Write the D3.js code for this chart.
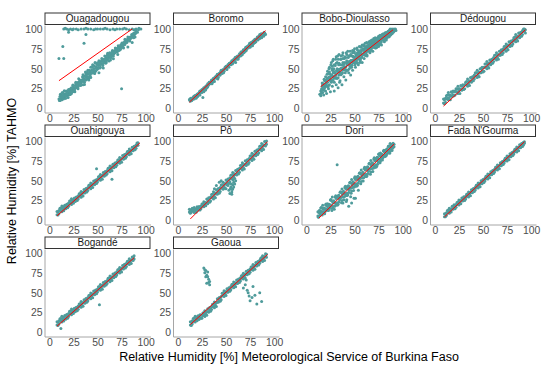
<!DOCTYPE html>
<html><head><meta charset="utf-8">
<script src="https://cdn.jsdelivr.net/npm/d3@7"></script>
<style>html,body{margin:0;padding:0;background:#fff;}svg{display:block;font-family:"Liberation Sans",Arial,sans-serif;}</style>
</head><body>
<svg id="chart" width="550" height="365"></svg>
<script>
const stations = ["Ouagadougou","Boromo","Bobo-Dioulasso","Dédougou","Ouahigouya","Pô","Dori","Fada N'Gourma","Bogandé","Gaoua"];
const tickValues = [0,25,50,75,100];
const xTitle = "Relative Humidity [%] Meteorological Service of Burkina Faso";
const yTitle = "Relative Humidity [%] TAHMO";

const ptsOuagadougou = [[10,12],[11,15],[12,13],[12,17],[13,11],[14,16],[15,14],[15,19],[16,13],[17,18],[18,16],[18,21],[19,19],[20,17],[20,23],[21,20],[22,22],[22,25],[23,19],[24,24],[25,27],[25,22],[26,25],[27,29],[28,26],[29,31],[30,28],[30,33],[31,30],[32,35],[33,32],[34,36],[35,34],[35,39],[36,37],[37,41],[38,36],[38,44],[39,40],[40,43],[40,48],[41,38],[42,46],[43,44],[43,52],[44,48],[45,45],[45,55],[46,50],[47,53],[48,47],[48,57],[49,52],[50,50],[50,56],[51,54],[52,58],[53,52],[54,56],[55,60],[56,57],[57,62],[58,59],[59,64],[60,61],[60,67],[61,63],[62,66],[63,64],[64,69],[65,67],[66,71],[67,69],[68,73],[69,72],[70,75],[71,73],[72,77],[73,76],[74,80],[75,78],[76,82],[77,80],[78,84],[79,83],[80,86],[81,85],[82,88],[83,87],[84,90],[85,89],[86,92],[87,91],[88,95],[89,94],[90,97],
[15,100],[18,100],[20,99],[22,100],[25,100],[28,100],[30,99],[33,100],[36,100],[40,100],[43,100],[46,99],[50,100],[53,100],[56,100],[60,100],[63,99],[66,100],[70,100],[73,100],[76,100],[80,100],[83,99],[86,100],[90,100],[93,101],
[10,63],[15,63],[14,78],[36,82],[75,25],[20,96],[38,93]];
const ptsOuagadougou2 = [[10.5,10],[11.5,18],[12.5,11],[13.5,20],[14.5,12],[16.5,17],[17.5,22],[19.5,14],[21.5,24],[23.5,22],[24.5,29],[26.5,21],[27.5,33],[29.5,27],[31.5,36],[32.5,29],[34.5,40],[36.5,33],[37.5,46],[39.5,37],[41.5,48],[42.5,41],[44.5,52],[46.5,46],[47.5,58],[49.5,49],[51.5,60],[52.5,51],[54.5,63],[55.5,54],[57.5,66],[58.5,57],[60.5,64],[62.5,70],[63.5,61],[65.5,73],[66.5,66],[68.5,76],[70.5,71],[71.5,79],[73.5,74],[75.5,82],[76.5,77],[78.5,87],[80.5,83],[81.5,90],[83.5,85],[85.5,93],[87.5,89],[89.5,99],[91.5,96],[92.5,99],
[16.5,101],[24,99],[38,101],[48,100],[58,101],[68,99],[78,101],[88,99],[95,100]];
const ptsOuagadougou3 = [[11,11],[12.8,14.5],[14,19],[15.8,16],[17,13],[18.8,18],[20.3,20],[21.8,18],[23,25],[24.3,21],[25.8,24],[27,26],[28.3,29],[29.8,25],[31,33],[32.3,31],[33.8,35],[35,30],[36.3,35],[37.8,39],[39,44],[40.3,40],[41.8,44],[43,39],[44.3,45],[45.8,48],[47,44],[48.3,51],[49.8,55],[51,51],[52.3,55],[53.8,59],[55,56],[56.3,59],[57.8,62],[59,58],[60.3,63],[61.8,67],[63,66],[64.3,64],[65.8,69],[67,72],[68.3,70],[69.8,74],[71,76],[72.3,73],[73.8,78],[75,80],[76.3,80],[77.8,82],[79,85],[80.3,84],[81.8,87],[83,89],[84.3,88],[85.8,90],[87,94],[88.3,93],[89.8,95]];
const ptsOuagadougou4 = [[11,10],[12.5,16.5],[14,15],[15.5,22.5],[17,16],[18.5,20.5],[20,24],[21.5,17.5],[23,26],[24.5,29.5],[26,23],[27.5,31.5],[29,30],[30.5,37.5],[32,31],[33.5,35.5],[35,42.6],[36.5,30.1],[38,41.4],[39.5,45.7],[41,36],[42.5,47.3],[44,44.6],[45.5,54.5],[47,44.8],[48.5,50.5],[50,57.6],[51.5,45.1],[53,56.4],[54.5,60.7],[56,51],[57.5,62.3],[59,59.6],[60.5,69.5],[62,59.8],[63.5,65.5],[65,71],[66.5,62.5],[68,71],[69.5,74.5],[71,68],[72.5,76.5],[74,75],[75.5,82.5],[77,76],[78.5,80.5],[80,86],[81.5,77.5],[83,86],[84.5,89.5],[86,83],[87.5,91.5],[89,90]];

const ptsBoromo = [[12,11],[13,9],[14,13],[15,11],[16,14],[17,12],[18,16],[19,13],[20,18],[21,16],[22,19],[23,17],[24,22],[25,20],[26,23],[27,21],[28,26],[29,24],[30,29],[31,27],[32,30],[33,33],[34,31],[35,35],[36,33],[37,37],[38,34],[39,40],[40,38],[41,42],[42,39],[43,44],[44,42],[45,46],[46,44],[47,49],[48,47],[49,50],[50,53],[51,49],[52,55],[53,52],[54,57],[55,55],[56,60],[57,57],[58,62],[59,59],[60,64],[61,62],[62,66],[63,64],[64,69],[65,66],[66,71],[67,68],[68,74],[69,71],[70,75],[71,73],[72,78],[73,76],[74,80],[75,78],[76,83],[77,80],[78,85],[79,82],[80,87],[81,84],[82,88],[83,86],[84,91],[85,88],[86,92],[87,89],[88,94],[89,91],[90,95],[91,93],[85,93],[80,83],[60,58],[45,48],[30,26],[20,15],[55,58],[70,72],[40,41],[66,67],[25,24],[35,32],[50,50],[75,77],[78,81],[26,14]];
const ptsBoromo2 = [[12.5,12],[13.5,13],[14.5,10],[16.5,15],[17.5,16],[19.5,17],[20.5,15],[22.5,21],[23.5,20],[25.5,22],[26.5,25],[28.5,23],[29.5,28],[31.5,29],[32.5,33],[34.5,34],[35.5,31],[37.5,36],[38.5,39],[40.5,40],[41.5,37],[43.5,42],[44.5,46],[46.5,47],[47.5,45],[49.5,52],[50.5,50],[52.5,53],[53.5,57],[55.5,58],[56.5,56],[58.5,60],[59.5,64],[61.5,64],[62.5,62],[64.5,67],[65.5,71],[67.5,72],[68.5,70],[70.5,77],[71.5,75],[73.5,78],[74.5,82],[76.5,81],[77.5,79],[79.5,86],[80.5,84],[82.5,90],[83.5,87],[85.5,90],[86.5,94],[88.5,92],[89.5,96],[90.5,94]];
const ptsBoromo3 = [[13,11],[15,13],[17,15],[19,16],[21,19],[23,22],[25,23],[27,26],[29,28],[31,31],[33,32],[35,36],[37,38],[39,39],[41,43],[43,44],[45,47],[47,48],[49,52],[51,53],[53,56],[55,57],[57,60],[59,62],[61,65],[63,66],[65,69],[67,71],[69,74],[71,76],[73,79],[75,80],[77,83],[79,84],[81,87],[83,89],[85,91],[87,91],[89,93]];

const ptsBobo = [[14,18],[15,22],[15,16],[16,25],[17,20],[17,30],[18,17],[18,27],[19,35],[20,22],[20,40],[21,28],[21,19],[22,33],[22,47],[23,25],[23,38],[24,52],[24,30],[25,21],[25,43],[26,35],[26,58],[27,28],[27,48],[28,40],[28,62],[29,22],[29,33],[30,54],[30,45],[31,30],[31,65],[32,38],[32,58],[33,48],[33,26],[34,42],[34,68],[35,35],[35,55],[36,50],[36,62],[37,30],[37,44],[38,58],[38,70],[39,40],[40,52],[40,65],[41,36],[42,48],[42,60],[43,72],[44,45],[44,55],[45,66],[46,42],[46,60],[47,52],[48,70],[48,48],[49,58],[50,64],[50,75],[51,52],[52,60],[53,70],[54,55],[55,66],[55,78],[56,60],[57,72],[58,58],[58,80],[59,68],[60,63],[60,75],[61,82],[62,70],[63,66],[63,78],[64,73],[65,84],[66,70],[66,78],[67,75],[68,82],[68,86],[69,72],[70,78],[70,88],[71,82],[72,76],[72,86],[73,80],[74,89],[74,84],[75,78],[75,91],[76,83],[77,87],[78,80],[78,92],[79,86],[80,89],[80,94],[81,84],[82,91],[82,95],[83,88],[84,93],[84,96],[85,90],[86,95],[86,98],[87,92],[88,96],[88,99],[89,94],[90,98],[91,100],[92,99],[87,100],[90,96]];
const ptsBobo2 = [[15.5,19],[16.5,28],[18.5,23],[19.5,30],[20.5,36],[21.5,43],[22.5,27],[23.5,50],[24.5,36],[25.5,55],[26.5,42],[27.5,60],[28.5,50],[29.5,38],[30.5,62],[31.5,48],[32.5,66],[33.5,55],[34.5,33],[35.5,62],[36.5,45],[37.5,67],[38.5,52],[39.5,63],[40.5,45],[41.5,70],[42.5,55],[43.5,64],[44.5,50],[45.5,72],[46.5,55],[47.5,66],[48.5,61],[49.5,72],[50.5,55],[51.5,68],[52.5,76],[53.5,62],[54.5,72],[55.5,58],[56.5,77],[57.5,66],[58.5,74],[59.5,80],[60.5,70],[61.5,76],[62.5,83],[63.5,72],[64.5,80],[65.5,76],[66.5,85],[67.5,80],[68.5,77],[69.5,86],[70.5,82],[71.5,89],[72.5,84],[73.5,87],[74.5,80],[75.5,88],[76.5,92],[77.5,84],[78.5,89],[79.5,93],[80.5,87],[81.5,92],[82.5,89],[83.5,95],[84.5,92],[85.5,97],[86.5,93],[87.5,97],[88.5,95],[89.5,99],[90.5,97],[91.5,98],[92.5,100],[93,98]];
const ptsBobo3 = [[16,20],[17.5,24],[19,26],[20.5,31],[22,38],[23,44],[24,46],[25,37],[26.5,50],[27,53],[28,45],[29,55],[30,40],[31,57],[32,50],[33,62],[34,57],[35,46],[36,66],[37,55],[38,63],[39,50],[40,58],[41,64],[42,68],[43,58],[44,66],[45,58],[46,68],[47,60],[48,73],[49,65],[50,70],[51,61],[52,66],[53,74],[54,65],[55,70],[56,73],[57,78],[58,68],[59,74],[60,79],[61,72],[62,78],[63,82],[64,77],[65,74],[66,82],[67,85],[68,80],[69,83],[70,85],[71,86],[72,80],[73,88],[74,82],[75,86],[76,89],[77,91],[78,86],[79,90],[80,92],[81,90],[82,93],[83,92],[84,90],[85,95],[86,92],[87,96],[88,94],[89,97],[90,99],[91,97]];
const ptsBobo4 = [[16,23.5],[17,31.4],[18,29.4],[19,36.3],[20,29.3],[21,33.2],[22,38.2],[23,29.1],[24,37.1],[25,40],[26,33],[27,40.9],[28,38.9],[29,45.8],[30,38.8],[31,42.7],[32,47.7],[33,38.7],[34,46.6],[35,49.6],[36,42.5],[37,50.5],[38,48.4],[39,55.4],[40,48.3],[41,52.3],[42,57.2],[43,48.2],[44,56.1],[45,59.1],[46,52],[47,60],[48,57.9],[49,64.9],[50,57.9],[51,61.8],[52,66.8],[53,57.7],[54,65.7],[55,68.6],[56,61.6],[57,69.5],[58,67.5],[59,74.4],[60,67.4],[61,71.3],[62,76.3],[63,67.2],[64,75.2],[65,78.2],[66,71.1],[67,79.1],[68,77],[69,84],[70,76.9],[71,80.9],[72,85.8],[73,76.8],[74,84.7],[75,87.7],[76,80.6],[77,88.6],[78,86.5],[79,93.5],[80,86.5],[81,90.4],[82,95.4],[83,86.3],[84,94.3],[85,97.2],[86,90.2],[87,98.1],[88,96.1],[89,100],[90,96],
[16.5,32],[17.5,25.9],[18.5,36.8],[19.5,29.8],[20.5,32.7],[21.5,28.7],[22.5,36.6],[23.5,39.6],[24.5,35.5],[25.5,34.5],[26.5,41.5],[27.5,35.4],[28.5,46.4],[29.5,39.3],[30.5,42.3],[31.5,38.2],[32.5,46.2],[33.5,49.1],[34.5,45.1],[35.5,44],[36.5,51],[37.5,44.9],[38.5,55.9],[39.5,48.8],[40.5,51.8],[41.5,47.8],[42.5,55.7],[43.5,58.7],[44.5,54.6],[45.5,53.6],[46.5,60.5],[47.5,54.5],[48.5,65.4],[49.5,58.4],[50.5,61.3],[51.5,57.3],[52.5,65.2],[53.5,68.2],[54.5,64.1],[55.5,63.1],[56.5,70.1],[57.5,64],[58.5,75],[59.5,67.9],[60.5,70.9],[61.5,66.8],[62.5,74.8],[63.5,77.7],[64.5,73.7],[65.5,72.6],[66.5,79.6],[67.5,73.5],[68.5,84.5],[69.5,77.4],[70.5,80.4],[71.5,76.4],[72.5,84.3],[73.5,87.3],[74.5,83.2],[75.5,82.2],[76.5,89.1],[77.5,83.1],[78.5,92],[79.5,87],[80.5,89.9],[81.5,85.9],[82.5,93.8],[83.5,95.8],[84.5,92.7],[85.5,91.7],[86.5,97.6],[87.5,92.6],[88.5,98.5]];

const ptsDedougou = [[9,12],[9,7],[10,6],[10,11],[11,13],[11,8],[12,12],[12,16],[13,13],[13,17],[14,20],[14,11],[15,14],[15,17],[16,17],[16,11],[17,21],[17,16],[18,15],[18,20],[19,22],[19,17],[20,16],[20,21],[21,22],[21,17],[22,21],[22,25],[23,21],[23,25],[24,28],[24,19],[25,22],[25,25],[26,25],[26,19],[27,29],[27,24],[28,23],[28,28],[29,30],[29,25],[30,24],[30,29],[31,30],[31,25],[32,30],[32,33],[33,30],[33,34],[34,37],[34,28],[35,31],[35,34],[36,35],[36,29],[37,39],[37,34],[38,33],[38,38],[39,40],[39,35],[40,35],[40,40],[41,42],[41,37],[42,41],[42,45],[43,41],[43,45],[44,48],[44,39],[45,42],[45,45],[46,46],[46,40],[47,50],[47,45],[48,45],[48,50],[49,52],[49,47],[50,46],[50,51],[51,52],[51,47],[52,52],[52,56],[53,52],[53,56],[54,59],[54,50],[55,53],[55,56],[56,57],[56,51],[57,61],[57,56],[58,55],[58,60],[59,62],[59,57],[60,57],[60,62],[61,64],[61,59],[62,63],[62,67],[63,63],[63,67],[64,70],[64,61],[65,64],[65,67],[66,68],[66,62],[67,72],[67,67],[68,67],[68,72],[69,74],[69,69],[70,68],[70,73],[71,75],[71,70],[72,74],[72,78],[73,74],[73,78],[74,81],[74,72],[75,76],[75,79],[76,80],[76,74],[77,84],[77,79],[78,78],[78,83],[79,85],[79,80],[80,79],[80,84],[81,86],[81,81],[82,85],[82,89],[83,86],[83,90],[84,93],[84,84],[85,87],[85,90],[86,91],[86,85],[87,95],[87,90],[88,89],[88,94],[89,96],[89,91],[90,91],[90,96],[91,98],[91,93],[92,97],[92,100],[93,97],[93,100],[94,99],[94,95]];

const ptsOuahigouya = [[8,11.4],[8,7.4],[9,6.9],[9,10.9],[10,12.7],[10,8.7],[11,12.2],[11,15.4],[12,12.5],[12,15.7],[13,18.3],[13,11.1],[14,13.8],[14,16.2],[15,17.2],[15,12.4],[16,19.2],[16,15.2],[17,14.7],[17,18.7],[18,20.5],[18,16.5],[19,16],[19,20],[20,22],[20,18],[21,21],[21,24.5],[22,21.6],[22,24.8],[23,27.5],[23,20.3],[24,23],[24,25.3],[25,26.4],[25,21.6],[26,28.4],[26,24.4],[27,23.8],[27,27.8],[28,29.7],[28,25.7],[29,25.1],[29,29.1],[30,31],[30,27],[31,30.5],[31,33.7],[32,30.7],[32,33.9],[33,36.6],[33,29.4],[34,32.1],[34,34.5],[35,35.5],[35,30.7],[36,39],[36,35],[37,34.5],[37,38.5],[38,40.3],[38,36.3],[39,35.8],[39,39.8],[40,41.6],[40,37.6],[41,41.1],[41,44.3],[42,41.4],[42,44.6],[43,47.2],[43,40],[44,42.7],[44,45.1],[45,46.2],[45,41.4],[46,49.6],[46,45.6],[47,45.1],[47,49.1],[48,51],[48,47],[49,46.4],[49,50.4],[50,52.3],[50,48.3],[51,51.8],[51,55],[52,52],[52,55.2],[53,57.9],[53,50.7],[54,53.3],[54,55.7],[55,56.8],[55,52],[56,60.3],[56,56.3],[57,55.7],[57,59.7],[58,61.6],[58,57.6],[59,57.1],[59,61.1],[60,62.9],[60,58.9],[61,62.4],[61,65.6],[62,62.7],[62,65.9],[63,68.5],[63,61.3],[64,64],[64,66.4],[65,67.5],[65,62.7],[66,70.9],[66,66.9],[67,66.4],[67,70.4],[68,72.2],[68,68.2],[69,67.7],[69,71.7],[70,73.6],[70,69.6],[71,73],[71,76.2],[72,73.3],[72,76.5],[73,79.2],[73,72],[74,74.6],[74,77],[75,78.1],[75,73.3],[76,81.6],[76,77.6],[77,77],[77,81],[78,82.9],[78,78.9],[79,78.4],[79,82.4],[80,84.2],[80,80.2],[81,83.7],[81,86.9],[82,83.9],[82,87.1],[83,89.8],[83,82.6],[84,85.3],[84,87.7],[85,88.7],[85,83.9],[86,92.2],[86,88.2],[87,87.7],[87,91.7],[88,93.5],[88,89.5],[89,89],[89,93],[90,94.9],[90,90.9],[91,94.3],[91,97.5],[92,94.6],[92,97.8],[49,65],[65,52]];

const ptsPo = [[12,14.1],[12,10.6],[13,9.2],[13,12.7],[14,13.9],[14,10.4],[15,12.5],[15,15.3],[16,12.3],[16,15.1],[17,16.5],[17,10.2],[18,12.1],[18,14.2],[19,14.7],[19,10.5],[20,17.3],[20,13.8],[21,12.9],[21,16.4],[22,17.6],[22,14.1],[23,13.2],[23,16.7],[24,18.4],[24,14.9],[25,18],[25,20.8],[26,18.3],[26,21.1],[27,23.5],[27,17.2],[28,19.6],[28,21.7],[29,22.7],[29,18.5],[30,27],[30,22],[31,21],[31,26],[32,28.5],[32,23.5],[33,23],[33,28],[34,29.5],[34,24.5],[35,28.7],[35,32.7],[36,28.9],[36,32.9],[37,36.1],[37,27.1],[38,30.3],[38,33.3],[39,34.5],[39,28.5],[40,38.7],[40,33.7],[41,32.9],[41,37.9],[42,40.2],[42,35.2],[43,34.4],[43,39.4],[44,41.6],[44,36.6],[45,40.8],[45,44.8],[46,41],[46,45],[47,48.2],[47,39.2],[48,42.4],[48,45.4],[49,46.7],[49,40.7],[50,50.9],[50,45.9],[51,45.1],[51,50.1],[52,52.3],[52,47.3],[53,46.5],[53,51.5],[54,53.7],[54,48.7],[55,52.9],[55,56.9],[56,53.1],[56,57.1],[57,60.3],[57,51.3],[58,54.6],[58,57.6],[59,58.8],[59,52.8],[60,63],[60,58],[61,57.2],[61,62.2],[62,64.4],[62,59.4],[63,58.6],[63,63.6],[64,65.8],[64,60.8],[65,65.1],[65,69.1],[66,65.3],[66,69.3],[67,72.5],[67,63.5],[68,66.7],[68,69.7],[69,70.9],[69,64.9],[70,75.1],[70,70.1],[71,69.3],[71,74.3],[72,76.5],[72,71.5],[73,70.8],[73,75.8],[74,78],[74,73],[75,77.2],[75,81.2],[76,77.4],[76,81.4],[77,84.6],[77,75.6],[78,78.8],[78,81.8],[79,83],[79,77],[80,87.2],[80,82.2],[81,81.5],[81,86.5],[82,88.7],[82,83.7],[83,82.9],[83,87.9],[84,90.1],[84,85.1],[85,89.3],[85,93.3],[86,89.5],[86,93.5],[87,96.7],[87,87.7],[88,91],[88,94],[89,95.2],[89,89.2],[90,99.4],[90,94.4],[91,93.6],[91,98.6],[92,100],[92,95.8]];
const ptsPoScatter = [[50,40],[52,44],[53,38],[54,34],[55,42],[56,36],[57,45],[58,48],[60,50],[54.5,40],[55.5,46],[56.5,39],[56,33],[57,40],[58,42],[59,46],[45,50],[40,44],[43,48],[38,40]];

const ptsDori = [[12,11.1],[12,5.6],[12.5,4],[13,4.6],[13,10.1],[13.5,12.5],[14,12.4],[14,6.9],[14.5,8.7],[15,11.4],[15,15.8],[15.5,16.4],[16,11.5],[16,15.9],[16.5,7.1],[17,19.3],[17,9.4],[17.5,14.5],[18,10.8],[18,14.1],[18.5,15.8],[19,15.2],[19,8.6],[19.5,11.3],[20,19.7],[20,14.2],[20.5,20.8],[21,13.2],[21,18.7],[21.5,13],[22,21],[22,15.5],[22.5,13.7],[23,12.5],[23,18],[23.5,20.4],[24,20.3],[24,14.8],[24.5,16.6],[25,19.3],[25,25.7],[25.5,26.3],[26,18.9],[26,25.3],[26.5,12.5],[27,29.7],[27,15.3],[27.5,22.7],[28,17.7],[28,22.5],[28.5,24.9],[29,23.7],[29,14.1],[29.5,18.1],[30,29.7],[30,21.7],[30.5,31.3],[31,19.7],[31,27.7],[31.5,19.5],[32,30.4],[32,22.4],[32.5,19.6],[33,20.4],[33,28.4],[33.5,31.8],[34,31.2],[34,23.2],[34.5,26],[35,29.2],[35,35.6],[35.5,36.2],[36,28.8],[36,35.2],[36.5,22.4],[37,39.6],[37,25.2],[37.5,32.6],[38,29.6],[38,34.4],[38.5,36.8],[39,35.6],[39,26],[39.5,30],[40,41.6],[40,33.6],[40.5,43.2],[41,31.6],[41,39.6],[41.5,31.4],[42,42.4],[42,34.4],[42.5,31.6],[43,32.4],[43,40.4],[43.5,43.8],[44,43.2],[44,35.2],[44.5,38],[45,41.1],[45,47.5],[45.5,48.1],[46,40.7],[46,47.1],[46.5,34.3],[47,51.5],[47,37.1],[47.5,44.5],[48,41.5],[48,46.3],[48.5,48.7],[49,47.5],[49,37.9],[49.5,41.9],[50,53.5],[50,45.5],[50.5,55.1],[51,43.5],[51,51.5],[51.5,43.3],[52,54.3],[52,46.3],[52.5,43.5],[53,44.3],[53,52.3],[53.5,55.7],[54,55.1],[54,47.1],[54.5,49.9],[55,53.1],[55,59.5],[55.5,60.1],[56,52.7],[56,59.1],[56.5,46.3],[57,63.4],[57,49],[57.5,56.4],[58,53.4],[58,58.2],[58.5,60.6],[59,59.4],[59,49.8],[59.5,53.8],[60,65.4],[60,57.4],[60.5,67],[61,55.4],[61,63.4],[61.5,55.2],[62,66.2],[62,58.2],[62.5,55.4],[63,56.2],[63,64.2],[63.5,67.6],[64,67],[64,59],[64.5,61.8],[65,65],[65,71.4],[65.5,72],[66,64.6],[66,71],[66.5,58.2],[67,75.4],[67,61],[67.5,68.4],[68,65.4],[68,70.2],[68.5,72.6],[69,71.3],[69,61.7],[69.5,65.7],[70,77.3],[70,69.3],[70.5,78.9],[71,67.3],[71,75.3],[71.5,67.1],[72,78.1],[72,70.1],[72.5,67.3],[73,68.1],[73,76.1],[73.5,79.5],[74,78.9],[74,70.9],[74.5,73.7],[75,76.9],[75,83.3],[75.5,83.9],[76,77],[76,81.4],[76.5,72.6],[77,84.8],[77,74.9],[77.5,80],[78,78.3],[78,81.6],[78.5,83.3],[79,82.8],[79,76.2],[79.5,78.9],[80,87.3],[80,81.8],[80.5,88.4],[81,80.8],[81,86.3],[81.5,80.6],[82,88.5],[82,83],[82.5,81.2],[83,82],[83,87.5],[83.5,89.9],[84,89.8],[84,84.3],[84.5,86.1],[85,88.8],[85,93.2],[85.5,93.8],[86,88.9],[86,93.3],[86.5,84.5],[87,96.7],[87,86.8],[87.5,91.9],[88,90.2],[88,93.5],[88.5,95.2],[89,94.7],[89,88.1],[89.5,90.8],[90,97],[90,93.7],[91,92.7],[91,96]];
const ptsDoriScatter = [[44,18],[47,22],[49.5,28],[51,28],[42,26],[38,22],[41.5,24],[54,38],[46,30],[32,70]];

const ptsFada = [[10,8.4],[10,4.9],[11,4.6],[11,8.1],[12,9.9],[12,6.4],[13,9.7],[13,12.5],[14,10.1],[14,12.9],[15,15.4],[15,9.1],[16,11.6],[16,13.7],[17,14.9],[17,10.7],[18,18.1],[18,14.6],[19,14.3],[19,17.8],[20,19.7],[20,16.2],[21,14.9],[21,18.4],[22,20.2],[22,16.7],[23,20],[23,22.8],[24,20.4],[24,23.2],[25,25.7],[25,19.4],[26,21.9],[26,24],[27,25.2],[27,21],[28,28.4],[28,24.9],[29,24.6],[29,28.1],[30,30],[30,26.5],[31,25.2],[31,28.7],[32,30.5],[32,27],[33,30.3],[33,33.1],[34,30.7],[34,33.5],[35,36],[35,29.7],[36,32.2],[36,34.3],[37,35.5],[37,31.3],[38,38.7],[38,35.2],[39,34.9],[39,38.4],[40,40.3],[40,36.8],[41,36.5],[41,40],[42,41.8],[42,38.3],[43,41.6],[43,44.4],[44,42],[44,44.8],[45,47.3],[45,41],[46,43.5],[46,45.6],[47,46.8],[47,42.6],[48,50],[48,46.5],[49,46.2],[49,49.7],[50,51.6],[50,48.1],[51,47.8],[51,51.3],[52,53.1],[52,49.6],[53,52.9],[53,55.7],[54,53.3],[54,56.1],[55,58.6],[55,52.3],[56,54.8],[56,56.9],[57,58.1],[57,53.9],[58,61.3],[58,57.8],[59,57.5],[59,61],[60,62.9],[60,59.4],[61,59.1],[61,62.6],[62,64.4],[62,60.9],[63,64.2],[63,67],[64,64.6],[64,67.4],[65,69.9],[65,63.6],[66,66.1],[66,68.2],[67,69.4],[67,65.2],[68,72.6],[68,69.1],[69,68.8],[69,72.3],[70,74.2],[70,70.7],[71,70.4],[71,73.9],[72,75.7],[72,72.2],[73,75.5],[73,78.3],[74,75.9],[74,78.7],[75,81.2],[75,74.9],[76,77.4],[76,79.5],[77,80.7],[77,76.5],[78,83.9],[78,80.4],[79,80.1],[79,83.6],[80,85.5],[80,82],[81,81.7],[81,85.2],[82,87],[82,83.5],[83,86.8],[83,89.6],[84,87.2],[84,90],[85,92.5],[85,86.2],[86,88.7],[86,90.8],[87,92],[87,87.8],[88,95.2],[88,91.7],[89,91.4],[89,94.9],[90,96.8],[90,93.3],[91,93],[91,96.5],[92,98.3],[92,94.8],[93,97],[93,99]];

const ptsBogande = [[8,13.4],[8,9.4],[9,8.9],[9,12.9],[10,14.8],[10,10.8],[11,14.2],[11,17.4],[12,14.5],[12,17.7],[13,20.4],[13,13.2],[14,15.9],[14,18.3],[15,19.3],[15,14.5],[16,21.3],[16,17.3],[17,16.8],[17,20.8],[18,22.7],[18,18.7],[19,18.1],[19,22.1],[20,24],[20,20],[21,23.5],[21,26.7],[22,23.8],[22,27],[23,29.6],[23,22.4],[24,25.1],[24,27.5],[25,28.6],[25,23.8],[26,30.6],[26,26.6],[27,26],[27,30],[28,31.9],[28,27.9],[29,27.4],[29,31.4],[30,33.3],[30,29.3],[31,32.7],[31,35.9],[32,33],[32,36.2],[33,38.9],[33,31.7],[34,34.4],[34,36.8],[35,37.8],[35,33],[36,41.3],[36,37.3],[37,36.8],[37,40.8],[38,42.7],[38,38.7],[39,38.1],[39,42.1],[40,44],[40,40],[41,43.5],[41,46.7],[42,43.8],[42,47],[43,49.6],[43,42.4],[44,45.1],[44,47.5],[45,48.6],[45,43.8],[46,52.1],[46,48.1],[47,47.5],[47,51.5],[48,53.4],[48,49.4],[49,48.9],[49,52.9],[50,54.8],[50,50.8],[51,54.2],[51,57.4],[52,54.5],[52,57.7],[53,60.4],[53,53.2],[54,55.9],[54,58.3],[55,59.3],[55,54.5],[56,62.8],[56,58.8],[57,58.3],[57,62.3],[58,64.2],[58,60.2],[59,59.6],[59,63.6],[60,65.5],[60,61.5],[61,65],[61,68.2],[62,65.3],[62,68.5],[63,71.1],[63,63.9],[64,66.6],[64,69],[65,70.1],[65,65.3],[66,73.6],[66,69.6],[67,69],[67,73],[68,74.9],[68,70.9],[69,70.4],[69,74.4],[70,76.3],[70,72.3],[71,75.7],[71,78.9],[72,76],[72,79.2],[73,81.9],[73,74.7],[74,77.4],[74,79.8],[75,80.8],[75,76],[76,84.3],[76,80.3],[77,79.8],[77,83.8],[78,85.7],[78,81.7],[79,81.1],[79,85.1],[80,87],[80,83],[81,86.5],[81,89.7],[82,86.8],[82,90],[83,92.6],[83,85.4],[84,88.1],[84,90.5],[85,91.6],[85,86.8],[86,95.1],[86,91.1],[87,90.5],[87,94.5],[88,96.4],[88,92.4],[52,35],[12,5]];

const ptsGaoua = [[13,13.4],[13,9.4],[14,8.9],[14,12.9],[15,14.8],[15,10.8],[16,14.3],[16,17.5],[17,14.6],[17,17.8],[18,20.5],[18,13.3],[19,16],[19,18.4],[20,19.5],[20,14.7],[21,21],[21,17],[22,16.5],[22,20.5],[23,22.4],[23,18.4],[24,17.9],[24,21.9],[25,21.8],[25,17.8],[26,21.3],[26,24.5],[27,21.6],[27,24.8],[28,27.5],[28,20.3],[29,23],[29,25.4],[30,26.5],[30,21.7],[31,30],[31,26],[32,25.5],[32,29.5],[33,31.4],[33,27.4],[34,26.9],[34,30.9],[35,32.8],[35,28.8],[36,32.3],[36,35.5],[37,32.6],[37,35.8],[38,38.5],[38,31.3],[39,34],[39,36.4],[40,37.5],[40,32.7],[41,42.5],[41,38.5],[42,38],[42,42],[43,43.9],[43,39.9],[44,39.4],[44,43.4],[45,45.3],[45,41.3],[46,46.3],[46,49.5],[47,46.6],[47,49.8],[48,52.5],[48,45.3],[49,48],[49,50.4],[50,51.5],[50,46.7],[51,55],[51,51],[52,50.5],[52,54.5],[53,56.4],[53,52.4],[54,51.9],[54,55.9],[55,57.8],[55,53.8],[56,57.3],[56,60.5],[57,57.6],[57,60.8],[58,63.5],[58,56.3],[59,59],[59,61.4],[60,62.5],[60,57.7],[61,66],[61,62],[62,61.5],[62,65.5],[63,67.4],[63,63.4],[64,62.9],[64,66.9],[65,68.8],[65,64.8],[66,68.3],[66,71.5],[67,68.6],[67,71.8],[68,74.5],[68,67.3],[69,70],[69,72.4],[70,73.5],[70,68.7],[71,77],[71,73],[72,72.5],[72,76.5],[73,78.4],[73,74.4],[74,73.9],[74,77.9],[75,79.8],[75,75.8],[76,79.3],[76,82.5],[77,79.6],[77,82.8],[78,85.5],[78,78.3],[79,81],[79,83.4],[80,84.5],[80,79.7],[81,88],[81,84],[82,83.5],[82,87.5],[83,89.4],[83,85.4],[84,84.9],[84,88.9],[85,90.8],[85,87.2],[86,90.3],[86,93.5],[87,90.6],[87,94.2],[88,96.5],[88,89.3],[89,92],[89,94.4],[90,95.5],[90,90.7],[91,99],[91,95],[92,94.5],[92,98.5]];
const ptsGaouaScatter = [[27,81],[28,75],[29,78],[30,72],[31,70],[32,67],[33,64],[33,60],[30,62],[29,70],[31,76],[32,63],[28,79],[68,56],[71,66],[72,53],[73,50],[75,40],[77,44],[80,47],[85,50],[87,39],[78,58],[82,36],[74,46],[70,60]];

const stationPoints = [
  ptsOuagadougou.concat(ptsOuagadougou2, ptsOuagadougou3, ptsOuagadougou4), ptsBoromo.concat(ptsBoromo2, ptsBoromo3), ptsBobo.concat(ptsBobo2, ptsBobo3, ptsBobo4),
  ptsDedougou, ptsOuahigouya, ptsPo.concat(ptsPoScatter),
  ptsDori.concat(ptsDoriScatter), ptsFada, ptsBogande, ptsGaoua.concat(ptsGaouaScatter)];
const fitStart = [[10,35],[12,8],[15,27.5],[9,3],[8,6],[13,2],[13,3],[10,4.6],[8,8],[13,10]];
const fitEnd   = [[86,100],[91,98],[90,99],[94,99],[94,97.5],[93,99],[91,96],[93,99],[88,94],[93,98]];

const svg = d3.select("#chart");
const nCol = 4, colPitch = 128.5, rowPitch = 112;
const left0 = 44.5, top0 = 25, panelW = 106, panelH = 87.5;
const x = d3.scaleLinear().domain([-5,105]).range([0,panelW]);
const y = d3.scaleLinear().domain([-5,105]).range([panelH,0]);
const ptColor = "#4f9b9b", axisGrey = "#a6a6a6", labelGrey = "#4d4d4d";

stations.forEach((name,i)=>{
  const c = i % nCol, r = Math.floor(i / nCol);
  const g = svg.append("g").attr("transform",`translate(${left0 + c*colPitch},${top0 + r*rowPitch})`);
  g.append("g").selectAll("circle").data(stationPoints[i]).join("circle")
    .attr("cx",d=>x(d[0])).attr("cy",d=>y(d[1])).attr("r",1.5).attr("fill",ptColor);
  g.append("line")
    .attr("x1",x(fitStart[i][0])).attr("y1",y(fitStart[i][1]))
    .attr("x2",x(fitEnd[i][0])).attr("y2",y(fitEnd[i][1]))
    .attr("stroke","#ff0000").attr("stroke-width",1);
  const ax = g.append("g").attr("transform",`translate(0,${panelH})`)
    .call(d3.axisBottom(x).tickValues(tickValues).tickSize(0).tickSizeOuter(0).tickPadding(2));
  const ay = g.append("g")
    .call(d3.axisLeft(y).tickValues(tickValues).tickSize(0).tickSizeOuter(0).tickPadding(2));
  [ax,ay].forEach(a=>{
    a.select(".domain").attr("stroke",axisGrey).attr("stroke-width",1);
    a.selectAll(".tick text").attr("fill",labelGrey).style("font-size","10.4px").style("font-family","'Liberation Sans',Arial,sans-serif");
  });
  g.append("rect").attr("x",0.5).attr("y",-12).attr("width",panelW-1).attr("height",11.5)
    .attr("fill","#fff").attr("stroke","#333").attr("stroke-width",1);
  g.append("text").attr("x",panelW/2).attr("y",-6.2).attr("text-anchor","middle")
    .attr("dominant-baseline","central").attr("fill","#1a1a1a").style("font-size","10px").text(name);
});

svg.append("text").attr("x",289).attr("y",361).attr("text-anchor","middle")
  .attr("fill","#000").style("font-size","12.5px").text(xTitle);
svg.append("text").attr("transform","translate(16,181) rotate(-90)").attr("text-anchor","middle")
  .attr("fill","#000").style("font-size","12.5px").text(yTitle);
</script>
</body></html>
